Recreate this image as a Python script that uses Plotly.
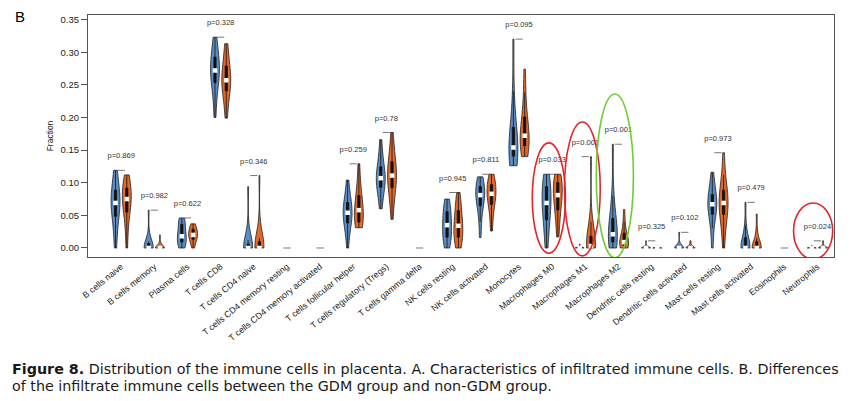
import numpy as np
import plotly.graph_objects as go

categories = ["B cells naive", "B cells memory", "Plasma cells", "T cells CD8", "T cells CD4 naive",
              "T cells CD4 memory resting", "T cells CD4 memory activated", "T cells follicular helper",
              "T cells regulatory (Tregs)", "T cells gamma delta", "NK cells resting", "NK cells activated",
              "Monocytes", "Macrophages M0", "Macrophages M1", "Macrophages M2", "Dendritic cells resting",
              "Dendritic cells activated", "Mast cells resting", "Mast cells activated", "Eosinophils", "Neutrophils"]

p_values = ["0.869", "0.982", "0.622", "0.328", "0.346", None, None, "0.259", "0.78", None, "0.945", "0.811",
            "0.095", "0.033", "0.001", "0.001", "0.325", "0.102", "0.973", "0.479", None, "0.024"]

Z = [0.0] * 13

non_gdm = [
    [0.0, 0.021, 0.038, 0.052, 0.060, 0.065, 0.069, 0.072, 0.078, 0.086, 0.097, 0.105, 0.119],
    [0, 0, 0, 0, 0, 0, 0, 0, 0.003, 0.006, 0.010, 0.022, 0.058],
    [0.0, 0.002, 0.006, 0.010, 0.014, 0.016, 0.018, 0.024, 0.030, 0.035, 0.040, 0.044, 0.046],
    [0.200, 0.228, 0.245, 0.256, 0.263, 0.268, 0.272, 0.277, 0.283, 0.290, 0.300, 0.312, 0.323],
    [0, 0, 0, 0, 0, 0, 0, 0, 0, 0.004, 0.012, 0.030, 0.094],
    Z, Z,
    [0.0, 0.022, 0.033, 0.040, 0.046, 0.050, 0.054, 0.058, 0.063, 0.068, 0.075, 0.086, 0.104],
    [0.060, 0.075, 0.088, 0.095, 0.100, 0.104, 0.107, 0.111, 0.116, 0.122, 0.132, 0.146, 0.166],
    Z,
    [0.0, 0.006, 0.012, 0.018, 0.024, 0.030, 0.035, 0.041, 0.047, 0.054, 0.061, 0.068, 0.075],
    [0.016, 0.040, 0.058, 0.067, 0.073, 0.077, 0.081, 0.085, 0.089, 0.093, 0.098, 0.104, 0.109],
    [0.126, 0.131, 0.137, 0.142, 0.147, 0.151, 0.154, 0.160, 0.168, 0.180, 0.200, 0.240, 0.320],
    [0.0, 0.018, 0.034, 0.046, 0.056, 0.063, 0.069, 0.076, 0.084, 0.092, 0.100, 0.107, 0.113],
    [0, 0, 0, 0, 0, 0, 0, 0, 0, 0, 0, 0.002, 0.006],
    [0.0, 0.002, 0.006, 0.010, 0.014, 0.018, 0.021, 0.026, 0.033, 0.042, 0.055, 0.080, 0.159],
    [0, 0, 0, 0, 0, 0, 0, 0, 0, 0, 0, 0.004, 0.011],
    [0, 0, 0, 0, 0, 0, 0, 0, 0, 0, 0, 0.006, 0.024],
    [0.0, 0.030, 0.045, 0.054, 0.060, 0.064, 0.067, 0.071, 0.075, 0.080, 0.088, 0.098, 0.116],
    [0, 0, 0, 0, 0, 0, 0, 0.003, 0.008, 0.014, 0.022, 0.035, 0.070],
    Z,
    [0, 0, 0, 0, 0, 0, 0, 0, 0, 0, 0, 0, 0.004],
]

gdm = [
    [0.0, 0.030, 0.046, 0.058, 0.066, 0.071, 0.075, 0.079, 0.084, 0.090, 0.097, 0.104, 0.112],
    [0, 0, 0, 0, 0, 0, 0, 0, 0, 0, 0.004, 0.009, 0.020],
    [0.0, 0.006, 0.011, 0.014, 0.017, 0.019, 0.020, 0.022, 0.025, 0.028, 0.031, 0.034, 0.037],
    [0.199, 0.220, 0.234, 0.243, 0.250, 0.254, 0.257, 0.262, 0.268, 0.276, 0.287, 0.300, 0.313],
    [0, 0, 0, 0, 0, 0, 0, 0, 0.003, 0.008, 0.015, 0.035, 0.111],
    Z, Z,
    [0.031, 0.033, 0.036, 0.041, 0.047, 0.053, 0.058, 0.063, 0.070, 0.078, 0.088, 0.102, 0.129],
    [0.044, 0.068, 0.085, 0.095, 0.102, 0.107, 0.111, 0.116, 0.122, 0.130, 0.140, 0.155, 0.177],
    Z,
    [0.0, 0.006, 0.012, 0.018, 0.024, 0.029, 0.034, 0.040, 0.047, 0.055, 0.064, 0.074, 0.085],
    [0.026, 0.045, 0.060, 0.069, 0.075, 0.079, 0.083, 0.087, 0.091, 0.096, 0.101, 0.107, 0.113],
    [0.140, 0.146, 0.152, 0.158, 0.163, 0.168, 0.172, 0.178, 0.186, 0.197, 0.212, 0.238, 0.274],
    [0.017, 0.036, 0.050, 0.061, 0.070, 0.076, 0.081, 0.087, 0.093, 0.099, 0.104, 0.109, 0.113],
    [0, 0, 0, 0, 0, 0, 0.003, 0.006, 0.010, 0.016, 0.024, 0.040, 0.140],
    [0.0, 0.0, 0.002, 0.004, 0.006, 0.008, 0.009, 0.012, 0.016, 0.021, 0.028, 0.040, 0.059],
    [0, 0, 0, 0, 0, 0, 0, 0, 0, 0, 0, 0, 0.003],
    [0, 0, 0, 0, 0, 0, 0, 0, 0, 0.002, 0.004, 0.007, 0.011],
    [0.0, 0.028, 0.044, 0.054, 0.061, 0.065, 0.069, 0.073, 0.079, 0.086, 0.096, 0.112, 0.146],
    [0, 0, 0, 0, 0, 0, 0, 0, 0.003, 0.008, 0.015, 0.026, 0.052],
    Z,
    [0, 0, 0, 0, 0, 0, 0, 0, 0, 0, 0.002, 0.005, 0.011],
]

# highlighted categories: (category, colour)
highlights = [("Macrophages M0", "#e8232b"), ("Macrophages M1", "#e8232b"),
              ("Macrophages M2", "#6fcc36"), ("Neutrophils", "#e8232b")]

BLUE = "#5a8cc3"
ORANGE = "#e2692a"
OFF = 0.17

fig = go.Figure()

for grp, col, sgn, name in [(non_gdm, BLUE, -1, "non-GDM"), (gdm, ORANGE, 1, "GDM")]:
    mx, my = [], []
    for i, vals in enumerate(grp):
        v = np.array(vals, dtype=float)
        if v.max() <= 0:
            continue
        pos = i + sgn * OFF
        bw = 1.06 * v.std(ddof=1) * len(v) ** -0.2  # normal-reference bandwidth (as R sm/vioplot)
        fig.add_trace(go.Violin(
            x=[pos] * len(v), y=v, name=name, fillcolor=col, opacity=1,
            line=dict(color="#222222", width=0.8), width=0.27, scalemode="width",
            spanmode="hard", points=False, bandwidth=bw,
            box=dict(visible=True, width=0.25, fillcolor="#111111", line=dict(color="#111111", width=0.8)),
            meanline=dict(visible=False), showlegend=False, hoverinfo="skip"))
        mx.append(pos)
        my.append(float(np.median(v)))
    fig.add_trace(go.Scatter(
        x=mx, y=my, mode="markers", showlegend=False, hoverinfo="skip",
        marker=dict(symbol="square", size=4.5, color="white", line=dict(width=0))))

# brackets and p-values
bx, by, tx, ty, tt = [], [], [], [], []
for i in range(len(categories)):
    m = max(max(non_gdm[i]), max(gdm[i]))
    bx += [i - 0.11, i + 0.11, None]
    by += [m, m, None]
    if p_values[i] is not None:
        tx.append(i)
        ty.append(m + 0.021)
        tt.append("p=" + p_values[i])
fig.add_trace(go.Scatter(x=bx, y=by, mode="lines", line=dict(color="#555555", width=0.8),
                         showlegend=False, hoverinfo="skip"))
fig.add_trace(go.Scatter(x=tx, y=ty, mode="text", text=tt, showlegend=False, hoverinfo="skip",
                         textfont=dict(family="Liberation Sans, Arial", size=7.5, color="#333333")))

# highlight ellipses
ell = {"Macrophages M0": (0.50, 0.161, -0.008), "Macrophages M1": (0.54, 0.193, -0.012),
       "Macrophages M2": (0.56, 0.236, -0.015), "Neutrophils": (0.59, 0.069, -0.017)}
shift = {"Macrophages M0": -0.1, "Macrophages M1": -0.09, "Macrophages M2": -0.11, "Neutrophils": -0.13}
for cat, colr in highlights:
    i = categories.index(cat)
    hw, top, bot = ell[cat]
    c = i + shift[cat]
    fig.add_shape(type="circle", xref="x", yref="y", x0=c - hw, x1=c + hw, y0=bot, y1=top,
                  line=dict(color=colr, width=1.6))

fig.update_layout(
    width=858, height=401, paper_bgcolor="white", plot_bgcolor="white",
    margin=dict(l=88, r=24, t=15, b=144), violinmode="overlay",
    font=dict(family="Liberation Sans, Arial", color="#222222"),
    xaxis=dict(range=[-1.0, 21.5], tickmode="array", tickvals=list(range(len(categories))),
               ticktext=categories, tickangle=-39, showline=True, mirror=True, linecolor="#555555",
               linewidth=1.2, ticks="", showgrid=False, zeroline=False, automargin=False,
               tickfont=dict(size=8.8, color="#1a1a1a")),
    yaxis=dict(range=[-0.0138, 0.357], tickvals=[0, 0.05, 0.1, 0.15, 0.2, 0.25, 0.3, 0.35],
               tickformat=".2f", showline=True, mirror=True, linecolor="#555555", linewidth=1.2,
               ticks="outside", ticklen=6, tickcolor="#555555", showgrid=False, zeroline=False,
               automargin=False, tickfont=dict(size=9.5, color="#222222"),
               title=dict(text="Fraction", font=dict(size=8.5, color="#222222"), standoff=5)),
)

fig.add_annotation(xref="paper", yref="paper", x=(13 - 88) / 746, y=1 + (15 - 17) / 242,
                   xanchor="left", yanchor="middle",
                   text="B", showarrow=False, font=dict(size=15, color="black", family="Liberation Sans, Arial"))
cap_font = dict(size=14.3, color="#1a1a1a", family="DejaVu Sans, Liberation Sans, Arial")
fig.add_annotation(xref="paper", yref="paper", x=(11 - 88) / 746, y=-(369 - 257) / 242, xanchor="left",
                   yanchor="middle", showarrow=False, align="left", borderpad=0,
                   text="<b>Figure 8.</b> Distribution of the immune cells in placenta. A. Characteristics of infiltrated immune cells. B. Differences",
                   font=cap_font)
fig.add_annotation(xref="paper", yref="paper", x=(11 - 88) / 746, y=-(386 - 257) / 242, xanchor="left",
                   yanchor="middle", showarrow=False, align="left", borderpad=0,
                   text="of the infiltrate immune cells between the GDM group and non-GDM group.",
                   font=cap_font)

fig.write_html("out.html", config={"displayModeBar": False},
               post_script="document.body.style.margin='0px';")
